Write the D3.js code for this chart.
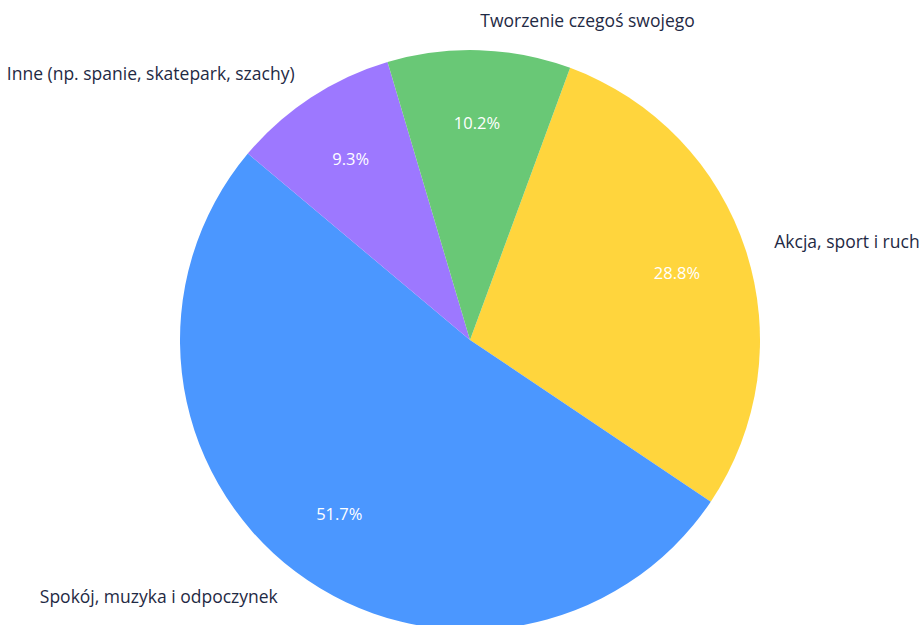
<!DOCTYPE html>
<html>
<head>
<meta charset="utf-8">
<script src="https://cdn.jsdelivr.net/npm/d3@7"></script>
<style>
  html, body { margin: 0; padding: 0; background: #fff; }
  svg { display: block; }
</style>
</head>
<body>
<svg id="chart" width="921" height="625"></svg>
<script>
// Slice data, in drawing order (clockwise)
const categories = ["Akcja, sport i ruch", "Spokój, muzyka i odpoczynek", "Inne (np. spanie, skatepark, szachy)", "Tworzenie czegoś swojego"];
const values = [28.8, 51.7, 9.3, 10.2];
const colors = ["#FFD53D", "#4B97FF", "#9D78FF", "#69C876"];

const width = 921, height = 625;
const cx = 470, cy = 340, radius = 290;
const startDeg = 20.2;

const data = categories.map((c, i) => ({ name: c, value: values[i], color: colors[i] }));

const svg = d3.select("#chart");
const g = svg.append("g").attr("transform", `translate(${cx},${cy})`);

const pie = d3.pie()
  .sort(null)
  .value(d => d.value)
  .startAngle(startDeg * Math.PI / 180)
  .endAngle((startDeg + 360) * Math.PI / 180);

const arcs = pie(data);

const arc = d3.arc().innerRadius(0).outerRadius(radius);
const pctArc = d3.arc().innerRadius(radius * 0.75).outerRadius(radius * 0.75);
const labelArc = d3.arc().innerRadius(radius * 1.103).outerRadius(radius * 1.103);

g.selectAll("path.slice")
  .data(arcs)
  .join("path")
  .attr("class", "slice")
  .attr("d", arc)
  .attr("fill", d => d.data.color);

const total = d3.sum(values);

// Percentages inside the slices
g.selectAll("text.pct")
  .data(arcs)
  .join("text")
  .attr("class", "pct")
  .attr("transform", d => `translate(${pctArc.centroid(d)})`)
  .attr("text-anchor", "middle")
  .attr("dominant-baseline", "central")
  .attr("fill", "#ffffff")
  .style("font-family", "'Open Sans', sans-serif")
  .style("font-size", "16.5px")
  .text(d => (d.data.value / total * 100).toFixed(1) + "%");

// Category names outside the pie
g.selectAll("text.name")
  .data(arcs)
  .join("text")
  .attr("class", "name")
  .attr("transform", d => `translate(${labelArc.centroid(d)})`)
  .attr("text-anchor", d => {
    const mid = (d.startAngle + d.endAngle) / 2;
    return Math.sin(mid) >= 0 ? "start" : "end";
  })
  .attr("dominant-baseline", "central")
  .attr("fill", "#1F2A44")
  .style("font-family", "'Open Sans', sans-serif")
  .style("font-size", "17.5px")
  .text(d => d.data.name);
</script>
</body>
</html>
